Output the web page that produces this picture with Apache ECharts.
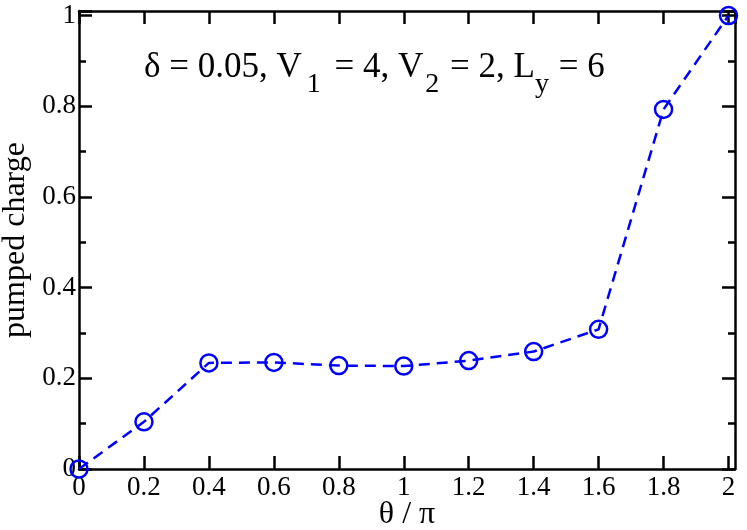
<!DOCTYPE html>
<html>
<head>
<meta charset="utf-8">
<script src="https://cdn.jsdelivr.net/npm/echarts@6/dist/echarts.min.js"></script>
<style>html,body{margin:0;padding:0;background:#fff}#c{width:747px;height:530px}</style>
</head>
<body>
<div id="c"></div>
<script>
var thetaOverPi = [0, 0.2, 0.4, 0.6, 0.8, 1.0, 1.2, 1.4, 1.6, 1.8, 2.0];
var pumpedCharge = [0, 0.104, 0.234, 0.235, 0.228, 0.227, 0.239, 0.259, 0.308, 0.793, 1.0];
var xTickLabels = ['0', '0.2', '0.4', '0.6', '0.8', '1', '1.2', '1.4', '1.6', '1.8', '2'];
var yTickLabels = ['0', '0.2', '0.4', '0.6', '0.8', '1'];

var FONT = 'Liberation Serif';
function lab(arr, step) {
  return function (v) {
    var k = v / step, r = Math.round(k);
    if (Math.abs(k - r) > 1e-6 || r < 0 || r >= arr.length) return '';
    return arr[r];
  };
}
var axisLine = { show: true, onZero: false, lineStyle: { color: '#000', width: 2.5 } };
var tick = { show: true, inside: true, length: 13, lineStyle: { color: '#000', width: 2.5 } };
var minor = { show: true, splitNumber: 2, length: 7, lineStyle: { color: '#000', width: 2.5 } };
var chart = echarts.init(document.getElementById('c'));
chart.setOption({
  animation: false,
  backgroundColor: '#fff',
  grid: { left: 79, right: 12, top: 11, bottom: 61, containLabel: false, outerBoundsMode: 'none' },
  xAxis: [{
    type: 'value', min: 0, max: 2.02, interval: 0.2,
    axisLine: axisLine, axisTick: tick,
    axisLabel: { formatter: lab(xTickLabels, 0.2), fontFamily: FONT, fontSize: 27, color: '#000', margin: 5, showMaxLabel: false },
    splitLine: { show: false },
    name: 'θ / π', nameLocation: 'middle', nameGap: 30, nameMoveOverlap: false,
    nameTextStyle: { fontFamily: FONT, fontSize: 32, color: '#000' }
  }, {
    type: 'value', min: 0, max: 2.02, interval: 0.2, position: 'top',
    axisLine: axisLine, axisTick: tick,
    axisLabel: { show: false }, splitLine: { show: false }
  }],
  yAxis: [{
    type: 'value', min: 0, max: 1.01, interval: 0.2,
    axisLine: axisLine, axisTick: tick, minorTick: minor,
    axisLabel: { formatter: lab(yTickLabels, 0.2), fontFamily: FONT, fontSize: 27, color: '#000', margin: 3, showMaxLabel: false },
    splitLine: { show: false },
    name: 'pumped charge', nameLocation: 'middle', nameGap: 46, nameRotate: 90,
    nameTextStyle: { fontFamily: FONT, fontSize: 32, color: '#000' }
  }, {
    type: 'value', min: 0, max: 1.01, interval: 0.2, position: 'right',
    axisLine: axisLine, axisTick: tick, minorTick: minor,
    axisLabel: { show: false }, splitLine: { show: false }
  }],
  graphic: [{
    type: 'text', left: 144, top: 50, z: 10,
    style: {
      text: '{m|δ = 0.05, V}{a|1}{m| = 4, V}{b|2}{m| = 2, L}{c|y}{m| = 6}',
      rich: {
        m: { fontFamily: FONT, fontSize: 35, color: '#000', lineHeight: 35, verticalAlign: 'top' },
        a: { fontFamily: FONT, fontSize: 28, color: '#000', lineHeight: 49, height: 28, verticalAlign: 'bottom', padding: [0, 5, 0, 5] },
        b: { fontFamily: FONT, fontSize: 28, color: '#000', lineHeight: 49, height: 28, verticalAlign: 'bottom', padding: [0, 2, 0, 2] },
        c: { fontFamily: FONT, fontSize: 28, color: '#000', lineHeight: 49, height: 28, verticalAlign: 'bottom', padding: [0, 1, 0, 0] }
      }
    }
  }],
  series: [{
    type: 'line',
    xAxisIndex: 0, yAxisIndex: 0,
    data: thetaOverPi.map(function (x, i) { return [x, pumpedCharge[i]]; }),
    symbol: 'circle', symbolSize: 17,
    itemStyle: { color: 'rgba(0,0,0,0)', borderColor: '#0000ff', borderWidth: 2.5 },
    lineStyle: { color: '#0000ff', width: 2.5, type: [11, 7] },
    clip: false
  }]
});
</script>
</body>
</html>
